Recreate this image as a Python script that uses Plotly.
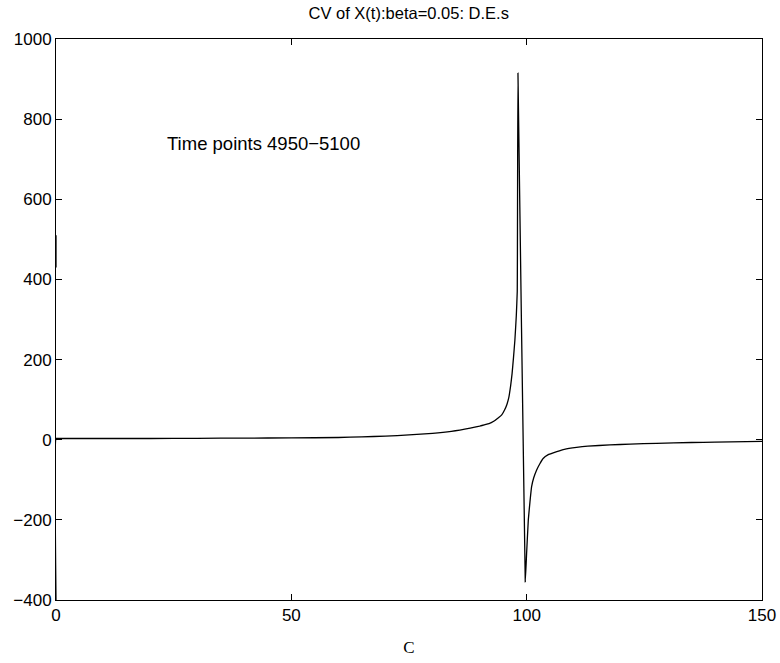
import plotly.graph_objects as go

c_vals = [0, 0, None, 0, 0, 0.5, 10, 20, 30, 40, 50, 60, 65, 70, 75, 80, 84, 88, 90, 91, 92,
          93, 94, 94.7, 95.3, 95.8, 96.2, 96.6, 96.9, 97.2, 97.5, 97.8, 98.0, 98.15,
          99.7, 100.0, 100.35, 100.7, 101.05, 101.5, 102.1, 102.8, 103.5, 104.5, 106.4,
          108, 110.6, 113, 117.7, 122, 127.6, 135, 140, 150]
cv_vals = [510, 430, None, -400, 3, 3, 3, 3, 3.5, 4, 4.5, 5.5, 7, 9, 12, 16, 21, 29, 34, 37, 40,
           46, 55, 62, 74, 88, 105, 135, 165, 205, 249, 310, 370, 915,
           -355, -280, -200, -155, -117, -95, -76, -60, -47, -38, -30,
           -24, -19, -16, -13, -11, -9, -7, -6, -4]

x_ticks = [0, 50, 100, 150]
y_ticks = [-400, -200, 0, 200, 400, 600, 800, 1000]

title_text = "CV of X(t):beta=0.05: D.E.s"
x_label = "C"
note_text = "Time points 4950\u22125100"

fig = go.Figure()
fig.add_trace(go.Scatter(x=c_vals, y=cv_vals, mode="lines",
                         line=dict(color="black", width=1.3, shape="spline", smoothing=0.3),
                         connectgaps=False, showlegend=False))

axis_common = dict(showline=True, linecolor="black", linewidth=1, mirror="allticks",
                   ticks="inside", ticklen=6, tickcolor="black", showgrid=False,
                   zeroline=False, automargin=False,
                   tickfont=dict(family="Liberation Sans, Arial", size=17, color="black"))

fig.update_xaxes(range=[0, 150], tickvals=x_ticks, **axis_common,
                 title=dict(text=x_label, font=dict(family="Liberation Serif, Times New Roman", size=17, color="black"), standoff=16))
fig.update_yaxes(range=[-400, 1000], tickvals=y_ticks, **axis_common)

fig.add_annotation(x=23.2, y=738, xref="x", yref="y", text=note_text, showarrow=False,
                   xanchor="left", yanchor="middle",
                   font=dict(family="Liberation Sans, Arial", size=18.5, color="black"))

fig.update_layout(
    width=780, height=663,
    margin=dict(l=56, r=18, t=39, b=63),
    paper_bgcolor="white", plot_bgcolor="white",
    title=dict(text=title_text, x=0.524, xanchor="center", y=0.98, yanchor="middle",
               font=dict(family="Liberation Sans, Arial", size=16.5, color="black")),
)

fig.write_html("out.html")
